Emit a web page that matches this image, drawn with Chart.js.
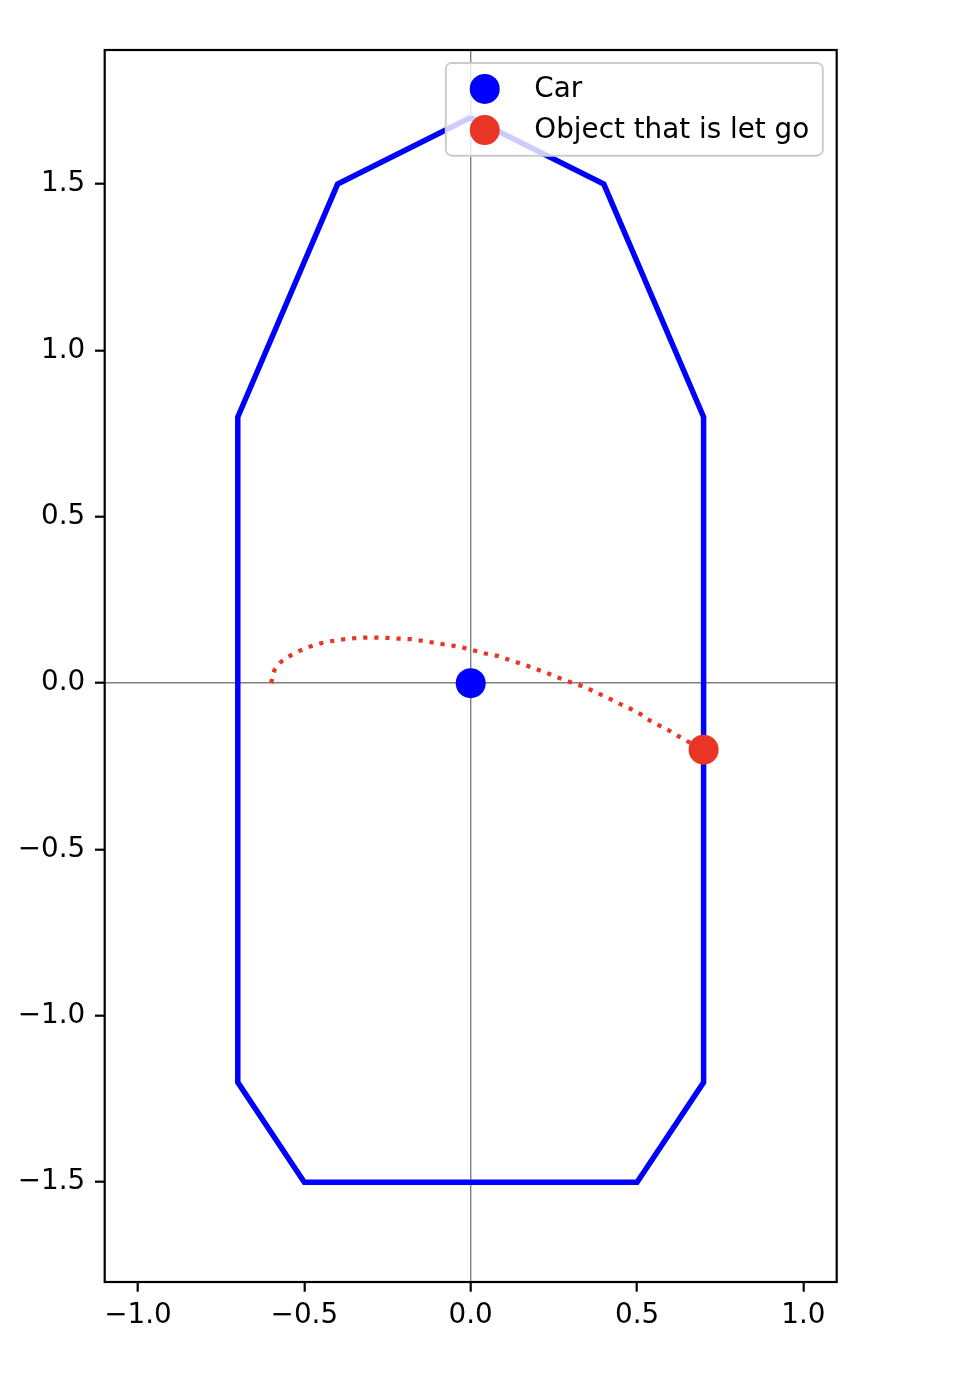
<!DOCTYPE html>
<html>
<head>
<meta charset="utf-8">
<script src="https://cdn.jsdelivr.net/npm/chart.js@4.4.1/dist/chart.umd.min.js"></script>
<style>
  html, body { margin: 0; padding: 0; background: #fff; }
  #wrap { width: 958px; height: 1396px; }
</style>
</head>
<body>
<div id="wrap"><canvas id="chart"></canvas></div>
<script>
// outline of the car (closed polygon)
const carX = [0, 0.4, 0.7, 0.7, 0.5, -0.5, -0.7, -0.7, -0.4, 0];
const carY = [1.7, 1.5, 0.8, -1.2, -1.5, -1.5, -1.2, 0.8, 1.5, 1.7];

// path of the object that is let go
const pathX = [-0.6, -0.59, -0.57, -0.54, -0.51, -0.48, -0.45, -0.42, -0.38, -0.35, -0.32, -0.28,
  -0.25, -0.22, -0.18, -0.15, -0.12, -0.09, -0.05, -0.02, 0.01, 0.04, 0.08, 0.11, 0.14, 0.17,
  0.2, 0.23, 0.26, 0.29, 0.33, 0.36, 0.39, 0.42, 0.45, 0.48, 0.51, 0.53, 0.56, 0.59, 0.62, 0.65, 0.7];
const pathY = [0, 0.039, 0.064, 0.084, 0.099, 0.111, 0.12, 0.126, 0.132, 0.135, 0.137, 0.137,
  0.136, 0.134, 0.132, 0.128, 0.123, 0.118, 0.112, 0.106, 0.098, 0.09, 0.082, 0.072, 0.062, 0.052,
  0.041, 0.03, 0.018, 0.006, -0.007, -0.02, -0.034, -0.048, -0.063, -0.077, -0.093, -0.108, -0.124,
  -0.139, -0.157, -0.174, -0.2];

const carPos = [0, 0];
const objectPos = [0.7, -0.2];

const labels = ['Car', 'Object that is let go'];
const xTicks = [-1.0, -0.5, 0.0, 0.5, 1.0];
const yTicks = [-1.5, -1.0, -0.5, 0.0, 0.5, 1.0, 1.5];

const BLUE = '#0000ff', RED = '#e93526';
const FONT = 'DejaVu Sans';
const FS = 27.8;

const toPts = (xs, ys) => xs.map((x, i) => ({x: x, y: ys[i]}));
const fmt = v => (v < 0 ? '\u2212' : '') + Math.abs(v).toFixed(1);

// frame around the plot area + matplotlib style legend in the upper right
const framePlugin = {
    id: 'frame',
    afterDraw(chart) {
        const c = chart.ctx, a = chart.chartArea;
        c.save();
        c.strokeStyle = '#000';
        c.lineWidth = 2.2;
        c.strokeRect(a.left, a.top, a.right - a.left, a.bottom - a.top);

        // legend
        const items = chart.data.datasets.filter(d => d.label);
        c.font = FS + 'px "' + FONT + '"';
        let tw = 0;
        items.forEach(d => { tw = Math.max(tw, c.measureText(d.label).width); });
        const pad = 0.5 * FS, bpad = 0.4 * FS, hlen = 2 * FS, htp = 0.8 * FS, rowH = 1.48 * FS;
        const w = 2 * bpad + hlen + htp + tw + 2;
        const h = 2 * bpad + FS * items.length + 0.5 * FS * (items.length - 1) + 1;
        const x0 = a.right - pad - w, y0 = a.top + pad - 1;
        c.beginPath();
        c.roundRect(x0, y0, w, h, 6);
        c.fillStyle = 'rgba(255,255,255,0.8)';
        c.fill();
        c.strokeStyle = '#cccccc';
        c.lineWidth = 2;
        c.stroke();
        items.forEach((d, i) => {
            const cy = y0 + bpad + FS / 2 + 1 + i * rowH;
            c.beginPath();
            c.arc(x0 + bpad + hlen / 2, cy, d.pointRadius, 0, Math.PI * 2);
            c.fillStyle = d.backgroundColor;
            c.fill();
            c.fillStyle = '#000';
            c.textBaseline = 'middle';
            c.textAlign = 'left';
            c.fillText(d.label, x0 + bpad + hlen + htp - 0.5, cy + 1);
        });
        c.restore();
    }
};

const ctx = document.getElementById('chart').getContext('2d');

const myChart = new Chart(ctx, {
    type: 'scatter',
    data: {
        datasets: [
            {
                label: labels[0],
                data: [{x: carPos[0], y: carPos[1]}],
                pointRadius: 15,
                backgroundColor: BLUE,
                borderWidth: 0,
                order: 0
            },
            {
                label: labels[1],
                data: [{x: objectPos[0], y: objectPos[1]}],
                pointRadius: 15,
                backgroundColor: RED,
                borderWidth: 0,
                order: 0
            },
            {
                data: toPts(pathX, pathY),
                showLine: true,
                pointRadius: 0,
                borderColor: RED,
                borderWidth: 4.2,
                borderDash: [4.2, 6.9],
                borderCapStyle: 'butt',
                tension: 0,
                order: 1
            },
            {
                data: toPts(carX, carY),
                showLine: true,
                pointRadius: 0,
                borderColor: BLUE,
                borderWidth: 5.5,
                borderJoinStyle: 'miter',
                tension: 0,
                order: 2
            }
        ]
    },
    options: {
        responsive: true,
        maintainAspectRatio: false,
        animation: false,
        events: [],
        layout: { padding: { top: 50, right: 121.3, bottom: 0, left: 0 } },
        scales: {
            x: {
                type: 'linear',
                min: -1.1,
                max: 1.1,
                afterFit: s => { s.height = 114; },
                afterBuildTicks: s => { s.ticks = xTicks.map(v => ({value: v})); },
                border: { display: false },
                grid: {
                    color: c => (c.tick && c.tick.value === 0) ? '#808080' : 'rgba(0,0,0,0)',
                    lineWidth: 1.4,
                    tickColor: '#000',
                    tickWidth: 2.2,
                    tickLength: 9.7
                },
                ticks: {
                    padding: 7,
                    maxRotation: 0,
                    color: '#000',
                    font: { family: FONT, size: FS },
                    callback: v => fmt(v)
                }
            },
            y: {
                type: 'linear',
                min: -1.8,
                max: 1.903,
                afterFit: s => { s.width = 104.7; },
                afterBuildTicks: s => { s.ticks = yTicks.map(v => ({value: v})); },
                border: { display: false },
                grid: {
                    color: c => (c.tick && c.tick.value === 0) ? '#808080' : 'rgba(0,0,0,0)',
                    lineWidth: 1.4,
                    tickColor: '#000',
                    tickWidth: 2.2,
                    tickLength: 9.7
                },
                ticks: {
                    padding: 9.7,
                    color: '#000',
                    font: { family: FONT, size: FS },
                    callback: v => fmt(v)
                }
            }
        },
        plugins: {
            legend: { display: false },
            tooltip: { enabled: false }
        }
    },
    plugins: [framePlugin]
});
</script>
</body>
</html>
